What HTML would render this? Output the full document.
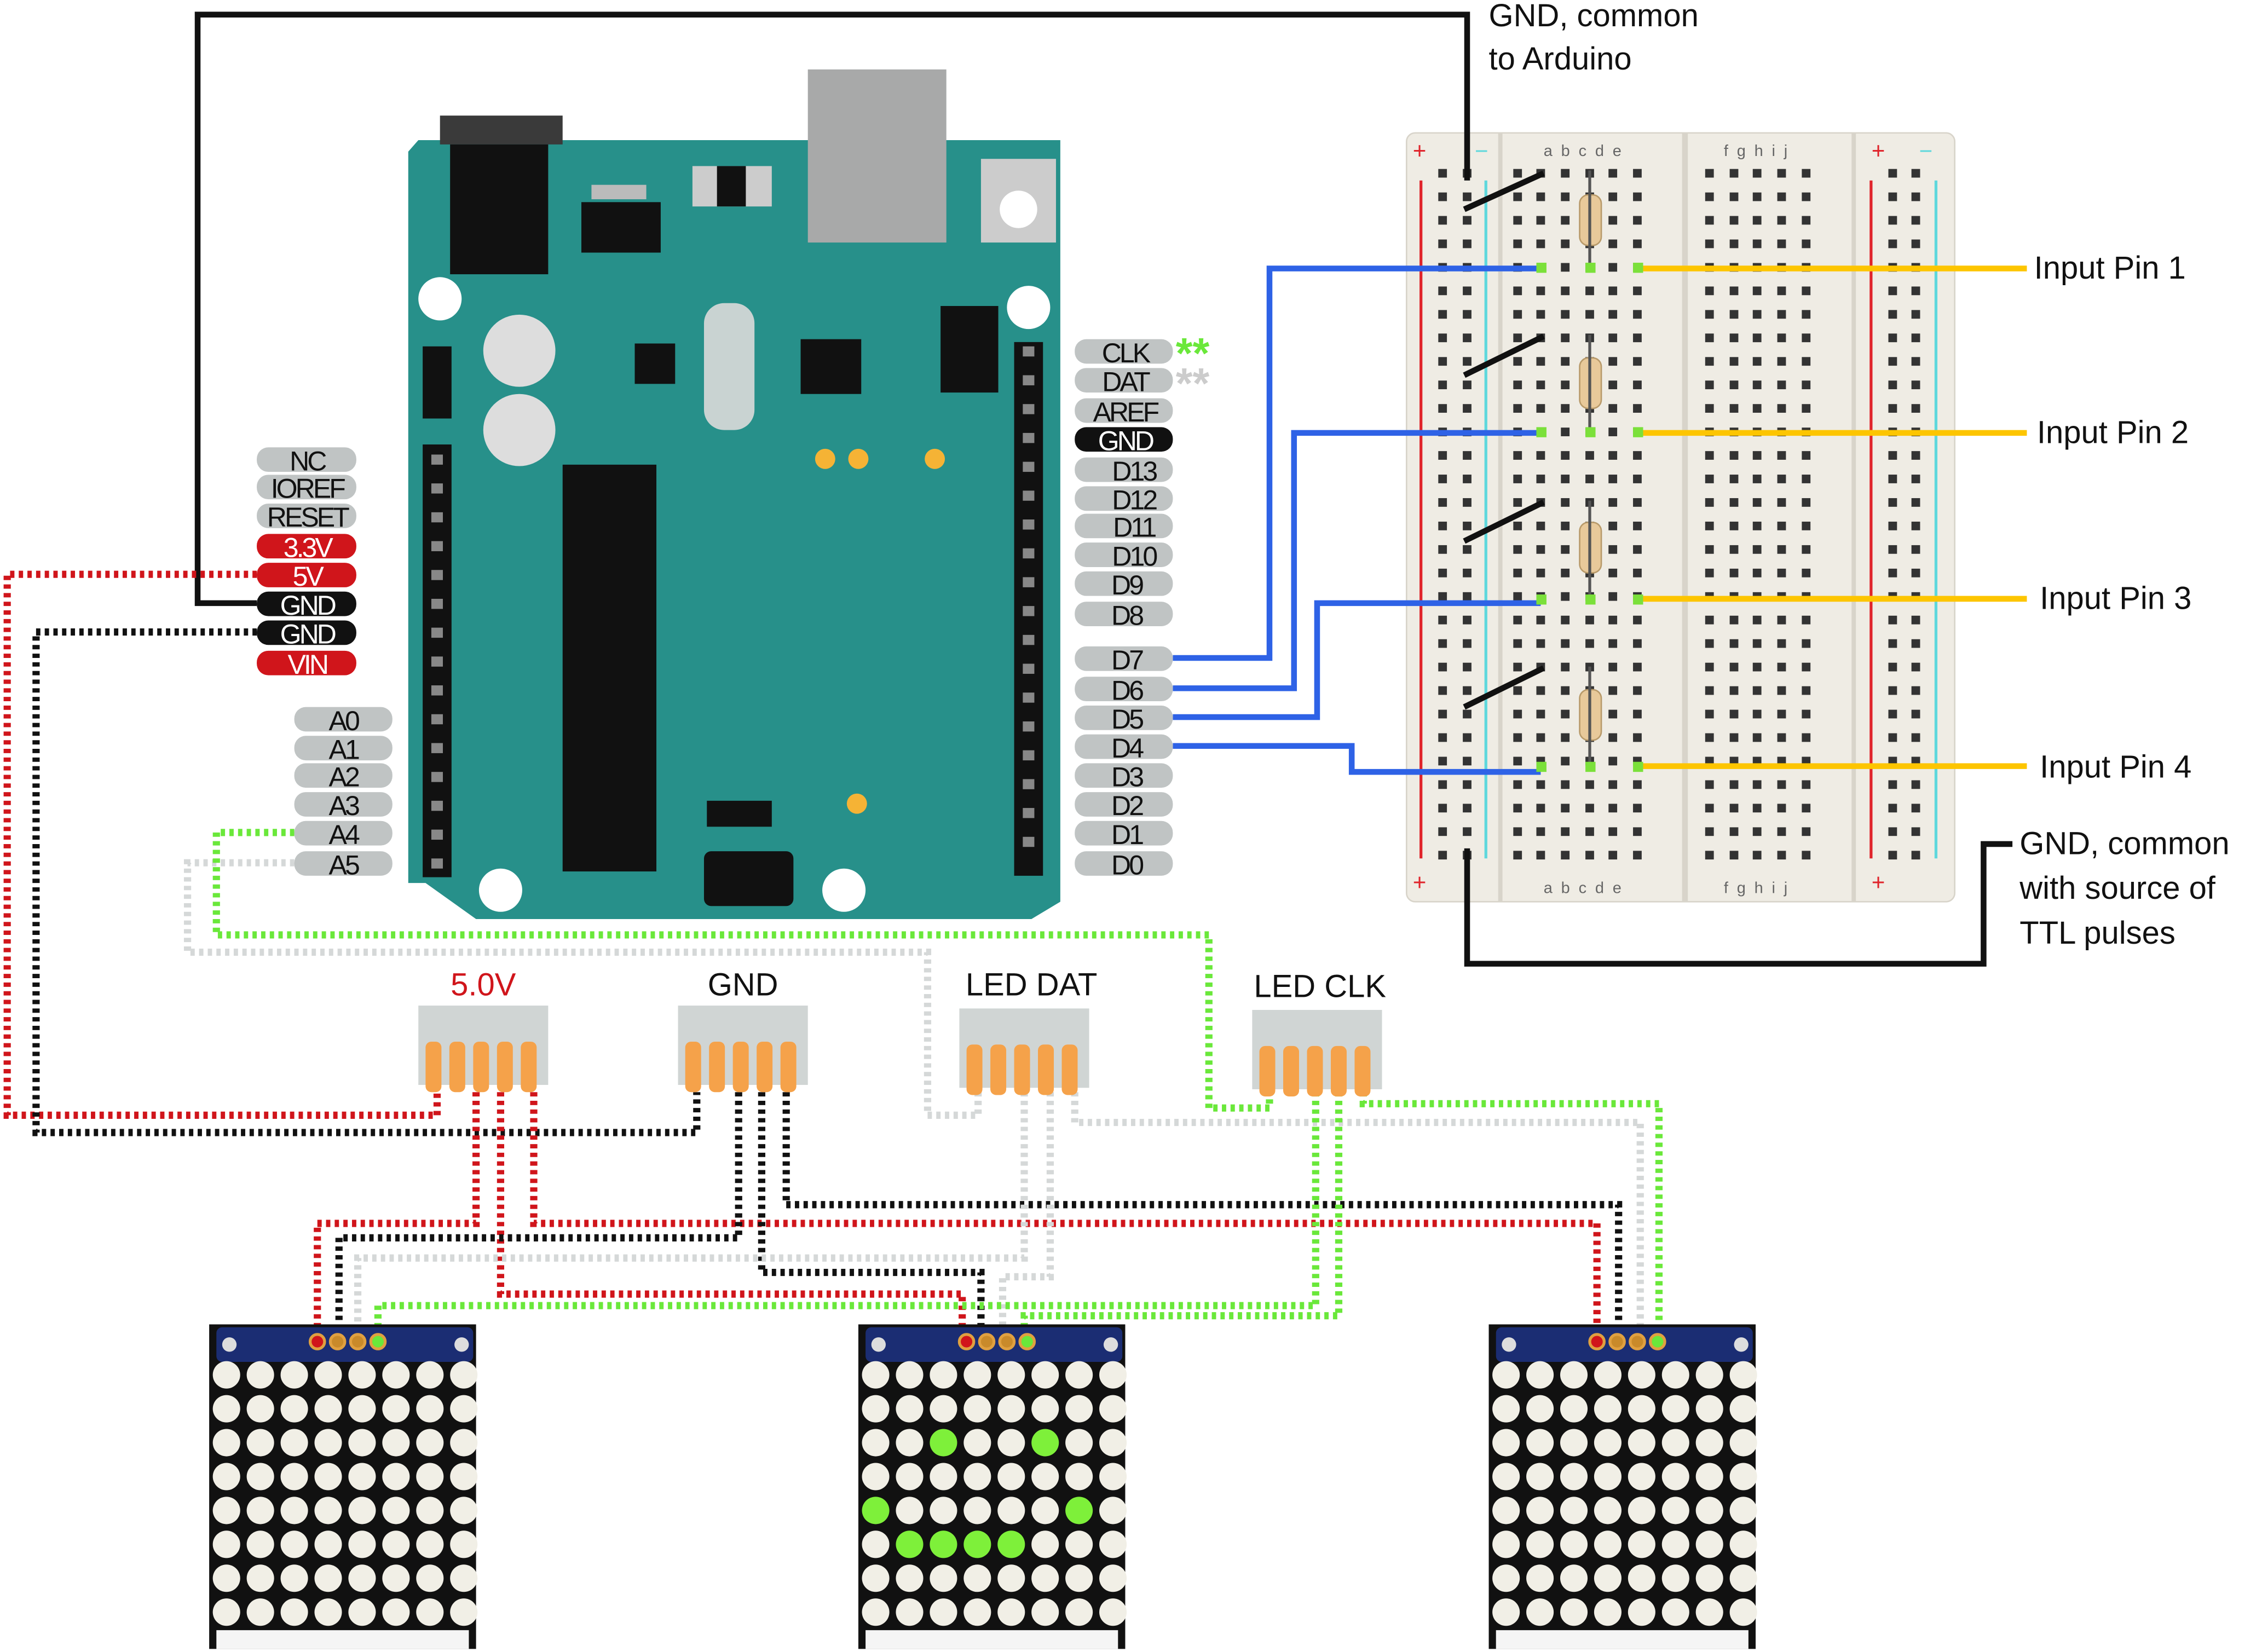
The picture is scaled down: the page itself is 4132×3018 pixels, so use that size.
<!DOCTYPE html>
<html><head><meta charset="utf-8"><style>
html,body{margin:0;padding:0;background:#fff;}
svg{display:block;}
text{font-family:"Liberation Sans",sans-serif;}
</style></head><body>
<svg id="s" width="4132" height="3018" viewBox="0 0 1568 1145" xmlns="http://www.w3.org/2000/svg">
<rect width="1568" height="1145" fill="#fff"/>
<!-- Arduino board -->
<path d="M290,97 L735,97 L735,625 L715,637 L330,637 L295,612 L283,612 L283,105 Z" fill="#27908a"/>
<rect x="560" y="48" width="96" height="120" fill="#a8a9a9"/>
<rect x="305" y="80" width="85" height="20" fill="#3a3a3a"/>
<rect x="312" y="100" width="68" height="90" fill="#111"/>
<rect x="403" y="140" width="55" height="35" fill="#111"/>
<rect x="410" y="128" width="38" height="10" fill="#bbb"/>
<rect x="480" y="115" width="55" height="28" fill="#ccc"/>
<rect x="497" y="115" width="20" height="28" fill="#111"/>
<rect x="680" y="110" width="52" height="58" fill="#ccc"/><circle cx="706" cy="145" r="13" fill="#fff"/>
<rect x="652" y="212" width="40" height="60" fill="#111"/>
<rect x="488" y="210" width="35" height="88" rx="14" fill="#c9d3d2"/>
<rect x="555" y="235" width="42" height="38" fill="#111"/>
<rect x="440" y="238" width="28" height="28" fill="#111"/>
<rect x="293" y="240" width="20" height="50" fill="#111"/>
<circle cx="360" cy="243" r="25" fill="#ddd"/><circle cx="360" cy="298" r="25" fill="#ddd"/>
<rect x="390" y="322" width="65" height="282" fill="#111"/>
<rect x="490" y="555" width="45" height="18" fill="#111"/>
<rect x="488" y="590" width="62" height="38" rx="5" fill="#111"/>
<circle cx="305" cy="207" r="15" fill="#fff"/><circle cx="713" cy="213" r="15" fill="#fff"/>
<circle cx="347" cy="617" r="15" fill="#fff"/><circle cx="585" cy="617" r="15" fill="#fff"/>
<circle cx="572" cy="318" r="7" fill="#f5b335"/><circle cx="595" cy="318" r="7" fill="#f5b335"/><circle cx="648" cy="318" r="7" fill="#f5b335"/><circle cx="594" cy="557" r="7" fill="#f5b335"/>
<rect x="293" y="308" width="20" height="300" fill="#111"/>
<rect x="703" y="237" width="20" height="370" fill="#111"/>
<g id="pins"></g>
<!-- Breadboard -->
<rect x="975" y="92" width="380" height="533" rx="6" fill="#efece4" stroke="#d8d4ca"/>
<line x1="1040" y1="92" x2="1040" y2="625" stroke="#d8d4ca" stroke-width="3"/>
<line x1="1168" y1="92" x2="1168" y2="625" stroke="#d8d4ca" stroke-width="4"/>
<line x1="1285" y1="92" x2="1285" y2="625" stroke="#d8d4ca" stroke-width="3"/>
<line x1="985" y1="125" x2="985" y2="595" stroke="#e0242b" stroke-width="2"/>
<line x1="1297" y1="125" x2="1297" y2="595" stroke="#e0242b" stroke-width="2"/>
<line x1="1030" y1="125" x2="1030" y2="595" stroke="#5fd8dc" stroke-width="2"/>
<line x1="1342" y1="125" x2="1342" y2="595" stroke="#5fd8dc" stroke-width="2"/>
<text x="984" y="110" font-size="16" fill="#e0242b" text-anchor="middle">+</text>
<text x="1027" y="110" font-size="16" fill="#5fd8dc" text-anchor="middle">−</text>
<text x="1302" y="110" font-size="16" fill="#e0242b" text-anchor="middle">+</text>
<text x="1335" y="110" font-size="16" fill="#5fd8dc" text-anchor="middle">−</text>
<text x="984" y="617" font-size="16" fill="#e0242b" text-anchor="middle">+</text>
<text x="1302" y="617" font-size="16" fill="#e0242b" text-anchor="middle">+</text>
<text x="1100" y="108" font-size="11" fill="#666" text-anchor="middle" letter-spacing="6">abcde</text>
<text x="1220" y="108" font-size="11" fill="#666" text-anchor="middle" letter-spacing="6">fghij</text>
<text x="1100" y="619" font-size="11" fill="#666" text-anchor="middle" letter-spacing="6">abcde</text>
<text x="1220" y="619" font-size="11" fill="#666" text-anchor="middle" letter-spacing="6">fghij</text>
<g id="holes"></g>
<!-- resistors -->
<g fill="#e8c99a" stroke="#b89a6a">
<rect x="1095" y="135" width="15" height="35" rx="6"/><rect x="1095" y="248" width="15" height="35" rx="6"/><rect x="1095" y="362" width="15" height="35" rx="6"/><rect x="1095" y="478" width="15" height="35" rx="6"/>
</g>
<g stroke="#555" stroke-width="2"><line x1="1102" y1="118" x2="1102" y2="185"/><line x1="1102" y1="232" x2="1102" y2="300"/><line x1="1102" y1="347" x2="1102" y2="415"/><line x1="1102" y1="462" x2="1102" y2="530"/></g>
<g stroke="#111" stroke-width="4"><line x1="1015" y1="145" x2="1070" y2="120"/><line x1="1015" y1="260" x2="1070" y2="233"/><line x1="1015" y1="375" x2="1070" y2="348"/><line x1="1015" y1="490" x2="1070" y2="463"/></g>
<!-- solid wires -->
<g fill="none" stroke-width="4">
<polyline points="178,418 137,418 137,10 1017,10 1017,125" stroke="#111"/>
<polyline points="1017,588 1017,668 1375,668 1375,585 1395,585" stroke="#111"/>
<polyline points="813,456 880,456 880,186 1068,186" stroke="#2e62e6"/>
<polyline points="813,477 897,477 897,300 1068,300" stroke="#2e62e6"/>
<polyline points="813,497 913,497 913,418 1068,418" stroke="#2e62e6"/>
<polyline points="813,517 937,517 937,535 1068,535" stroke="#2e62e6"/>
<line x1="1135" y1="186" x2="1405" y2="186" stroke="#fdc500"/>
<line x1="1135" y1="300" x2="1405" y2="300" stroke="#fdc500"/>
<line x1="1135" y1="415" x2="1405" y2="415" stroke="#fdc500"/>
<line x1="1135" y1="531" x2="1405" y2="531" stroke="#fdc500"/>
</g>
<g fill="#7be03a"><rect x="1065" y="182" width="7" height="7"/><rect x="1099" y="182" width="7" height="7"/><rect x="1132" y="182" width="7" height="7"/><rect x="1065" y="296" width="7" height="7"/><rect x="1099" y="296" width="7" height="7"/><rect x="1132" y="296" width="7" height="7"/><rect x="1065" y="412" width="7" height="7"/><rect x="1099" y="412" width="7" height="7"/><rect x="1132" y="412" width="7" height="7"/><rect x="1065" y="528" width="7" height="7"/><rect x="1099" y="528" width="7" height="7"/><rect x="1132" y="528" width="7" height="7"/></g>
<!-- dotted wires -->
<g fill="none" stroke-width="5" stroke-dasharray="3 3">
<polyline points="178,398 5,398 5,773 303,773 303,757" stroke="#d0151b"/>
<polyline points="178,438 25,438 25,785 483,785 483,757" stroke="#111"/>
<polyline points="204,598 130,598 130,660 643,660 643,773 678,773 678,757" stroke="#d5d8d8"/>
<polyline points="204,577 150,577 150,648 838,648 838,768 880,768 880,757" stroke="#6ae83a"/>
<polyline points="330,757 330,848 220,848 220,925" stroke="#d0151b"/>
<polyline points="347,757 347,897 667,897 667,925" stroke="#d0151b"/>
<polyline points="370,757 370,848 1107,848 1107,920" stroke="#d0151b"/>
<polyline points="512,757 512,858 235,858 235,925" stroke="#111"/>
<polyline points="528,757 528,882 680,882 680,925" stroke="#111"/>
<polyline points="545,757 545,835 1122,835 1122,920" stroke="#111"/>
<polyline points="710,757 710,872 248,872 248,925" stroke="#d5d8d8"/>
<polyline points="728,757 728,885 695,885 695,925" stroke="#d5d8d8"/>
<polyline points="745,757 745,778 1137,778 1137,920" stroke="#d5d8d8"/>
<polyline points="912,757 912,905 262,905 262,925" stroke="#6ae83a"/>
<polyline points="928,757 928,912 710,912 710,925" stroke="#6ae83a"/>
<polyline points="945,757 945,765 1150,765 1150,920" stroke="#6ae83a"/>
</g>
<!-- headers -->
<g id="hdr"></g>
<text x="335" y="690" font-size="22" fill="#d0151b" text-anchor="middle">5.0V</text>
<text x="515" y="690" font-size="22" fill="#111" text-anchor="middle">GND</text>
<text x="715" y="690" font-size="22" fill="#111" text-anchor="middle">LED DAT</text>
<text x="915" y="691" font-size="22" fill="#111" text-anchor="middle">LED CLK</text>
<!-- matrices -->
<g id="mx"></g>
<!-- labels -->
<g font-size="22" fill="#111">
<text x="1032" y="18">GND, common</text><text x="1032" y="48">to Arduino</text>
<text x="1410" y="193">Input Pin 1</text><text x="1412" y="307">Input Pin 2</text>
<text x="1414" y="422">Input Pin 3</text><text x="1414" y="539">Input Pin 4</text>
<text x="1400" y="592">GND, common</text><text x="1400" y="623">with source of</text><text x="1400" y="654">TTL pulses</text>
</g>
<text x="815" y="255" font-size="30" fill="#6ae83a" font-weight="bold">**</text>
<text x="815" y="276" font-size="30" fill="#ccc" font-weight="bold">**</text>
<g id="pills" font-size="19" text-anchor="middle">
<g fill="#c0c4c4"><rect x="178" y="310" width="69" height="17" rx="8"/><rect x="178" y="329" width="69" height="17" rx="8"/><rect x="178" y="349" width="69" height="17" rx="8"/></g>
<g fill="#d0151b"><rect x="178" y="370" width="69" height="17" rx="8"/><rect x="178" y="390" width="69" height="17" rx="8"/><rect x="178" y="451" width="69" height="17" rx="8"/></g>
<g fill="#111"><rect x="178" y="410" width="69" height="17" rx="8"/><rect x="178" y="430" width="69" height="17" rx="8"/><rect x="745" y="296" width="68" height="17" rx="8"/></g>
<g fill="#c0c4c4">
<rect x="204" y="490" width="68" height="17" rx="8"/><rect x="204" y="510" width="68" height="17" rx="8"/><rect x="204" y="529" width="68" height="17" rx="8"/><rect x="204" y="549" width="68" height="17" rx="8"/><rect x="204" y="569" width="68" height="17" rx="8"/><rect x="204" y="590" width="68" height="17" rx="8"/>
<rect x="745" y="235" width="68" height="17" rx="8"/><rect x="745" y="255" width="68" height="17" rx="8"/><rect x="745" y="276" width="68" height="17" rx="8"/>
<rect x="745" y="317" width="68" height="17" rx="8"/><rect x="745" y="337" width="68" height="17" rx="8"/><rect x="745" y="356" width="68" height="17" rx="8"/><rect x="745" y="376" width="68" height="17" rx="8"/><rect x="745" y="396" width="68" height="17" rx="8"/><rect x="745" y="417" width="68" height="17" rx="8"/>
<rect x="745" y="448" width="68" height="17" rx="8"/><rect x="745" y="469" width="68" height="17" rx="8"/><rect x="745" y="489" width="68" height="17" rx="8"/><rect x="745" y="509" width="68" height="17" rx="8"/><rect x="745" y="529" width="68" height="17" rx="8"/><rect x="745" y="549" width="68" height="17" rx="8"/><rect x="745" y="569" width="68" height="17" rx="8"/><rect x="745" y="590" width="68" height="17" rx="8"/>
</g>
<g fill="#111" letter-spacing="-1.5">
<text x="213" y="326">NC</text><text x="213" y="345">IOREF</text><text x="213" y="365">RESET</text>
<text x="238" y="506">A0</text><text x="238" y="526">A1</text><text x="238" y="545">A2</text><text x="238" y="565">A3</text><text x="238" y="585">A4</text><text x="238" y="606">A5</text>
<text x="780" y="251">CLK</text><text x="780" y="271">DAT</text><text x="780" y="292">AREF</text>
<text x="786" y="333">D13</text><text x="786" y="353">D12</text><text x="786" y="372">D11</text><text x="786" y="392">D10</text><text x="781" y="412">D9</text><text x="781" y="433">D8</text>
<text x="781" y="464">D7</text><text x="781" y="485">D6</text><text x="781" y="505">D5</text><text x="781" y="525">D4</text><text x="781" y="545">D3</text><text x="781" y="565">D2</text><text x="781" y="585">D1</text><text x="781" y="606">D0</text>
</g>
<g fill="#fff" letter-spacing="-1.5">
<text x="213" y="386">3.3V</text><text x="213" y="406">5V</text><text x="213" y="426">GND</text><text x="213" y="446">GND</text><text x="213" y="467">VIN</text><text x="780" y="312">GND</text>
</g>
</g>
</svg>
<script>
var NS="http://www.w3.org/2000/svg";
function el(p,t,a){var e=document.createElementNS(NS,t);for(var k in a)e.setAttribute(k,a[k]);p.appendChild(e);return e;}
var pins=document.getElementById('pins');
for(var y=318;y<=598;y+=20)el(pins,'rect',{x:299,y:y-3,width:8,height:7,fill:'#888'});
for(var y=243;y<=598;y+=20)el(pins,'rect',{x:709,y:y-3,width:8,height:7,fill:'#888'});
var h=document.getElementById('holes');
var cols=[1000,1017,1052,1068,1085,1102,1118,1135,1185,1202,1218,1235,1252,1312,1328];
for(var r=0;r<30;r++){var y=120+r*16.3;cols.forEach(function(x){el(h,'rect',{x:x-3,y:y-3,width:6,height:6,fill:'#333'});});}
var hd=document.getElementById('hdr');
[[290,697],[470,697],[665,699],[868,700]].forEach(function(p){el(hd,'rect',{x:p[0],y:p[1],width:90,height:55,fill:'#d0d5d4'});
for(var i=0;i<5;i++)el(hd,'rect',{x:p[0]+5+i*16.5,y:p[1]+25,width:11,height:35,rx:4,fill:'#f5a24a'});});
var mx=document.getElementById('mx');
var greens={'2,2':1,'2,5':1,'4,0':1,'4,6':1,'5,1':1,'5,2':1,'5,3':1,'5,4':1};
[[145,0],[595,1],[1032,0]].forEach(function(m){var x0=m[0];
el(mx,'rect',{x:x0,y:918,width:185,height:225,fill:'#111'});
el(mx,'rect',{x:x0+5,y:920,width:178,height:24,rx:4,fill:'#1b2d73'});
el(mx,'circle',{cx:x0+14,cy:932,r:5,fill:'#ddd'});el(mx,'circle',{cx:x0+175,cy:932,r:5,fill:'#ddd'});
[['#d0151b',0],['#c98a2a',1],['#c98a2a',2],['#6ae83a',3]].forEach(function(c){el(mx,'circle',{cx:x0+75+c[1]*14,cy:930,r:5,fill:c[0],stroke:'#e0a040','stroke-width':2});});
for(var r=0;r<8;r++)for(var c=0;c<8;c++){var g=m[1]&&greens[r+','+c];
el(mx,'circle',{cx:x0+12+c*23.5,cy:953+r*23.5,r:9.5,fill:g?'#7ef03a':'#f1efe6'});}
el(mx,'rect',{x:x0+5,y:1130,width:175,height:13,fill:'#f5f5f5'});
});
</script>
</body></html>
